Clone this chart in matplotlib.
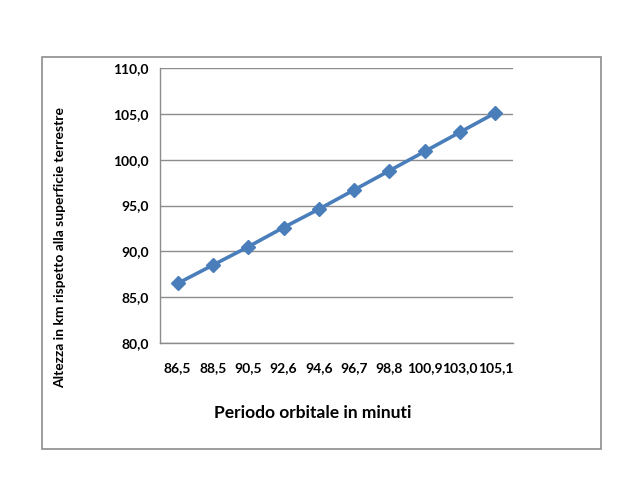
import matplotlib
matplotlib.use("Agg")
import matplotlib.pyplot as plt
from matplotlib.patches import Rectangle

# periodo orbitale (minuti) e altezza (km)
periodi = ["86,5", "88,5", "90,5", "92,6", "94,6", "96,7", "98,8", "100,9", "103,0", "105,1"]
altezze = [86.5, 88.5, 90.5, 92.6, 94.6, 96.7, 98.8, 100.9, 103.0, 105.1]
yticks = [80, 85, 90, 95, 100, 105, 110]

plt.rcParams['font.family'] = ['Lato', 'DejaVu Sans']

W, H = 640, 495
fig = plt.figure(figsize=(W / 100, H / 100), dpi=100)

# outer chart border
fig.patches.append(Rectangle((42 / W, 1 - 449 / H), (601 - 42) / W, (449 - 57) / H,
                             transform=fig.transFigure, fill=False,
                             edgecolor="#8c8c8c", linewidth=1.2))

ax = fig.add_axes([160 / W, 1 - 343 / H, (513 - 160) / W, (343 - 68) / H])
x = list(range(len(periodi)))
ax.plot(x, altezze, color="#4a7ebb", linewidth=2.6, marker="D", markersize=7,
        markerfacecolor="#4a7ebb", markeredgecolor="#4a7ebb", zorder=3)

ax.set_xlim(-0.5, len(periodi) - 0.5)
ax.set_ylim(80, 110)
ax.set_yticks(yticks)
ax.set_yticklabels([f"{v},0" for v in yticks], fontsize=10, fontweight="bold")
ax.set_xticks(x)
ax.set_xticklabels(periodi, fontsize=10, fontweight="bold")
ax.tick_params(axis="both", length=0)
ax.tick_params(axis="x", pad=14)
ax.tick_params(axis="y", pad=8)

ax.grid(axis="y", color="#8c8c8c", linewidth=1.0)
ax.set_axisbelow(True)
for side in ["top", "right"]:
    ax.spines[side].set_visible(False)
for side in ["left", "bottom"]:
    ax.spines[side].set_color("#8c8c8c")
    ax.spines[side].set_linewidth(1.0)

fig.text(60 / W, 1 - 247 / H, "Altezza in km rispetto alla superficie terrestre",
         rotation=90, ha="center", va="center", fontsize=10, fontweight="bold")
fig.text(313 / W, 1 - 413 / H, "Periodo orbitale in minuti",
         ha="center", va="center", fontsize=12.5, fontweight="bold")

fig.savefig("out.png", dpi=100)
